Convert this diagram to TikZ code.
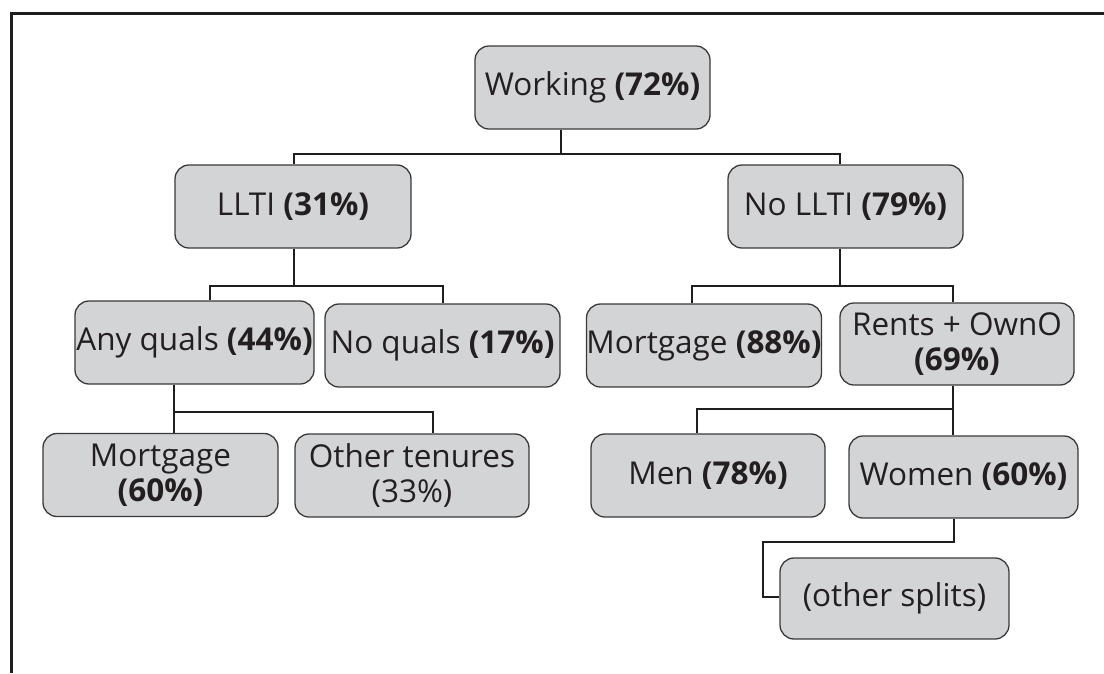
\documentclass[tikz,border=0pt]{standalone}
\usepackage{fontspec}
\setmainfont{Open Sans}
\definecolor{boxfill}{HTML}{D3D4D6}
\definecolor{boxdraw}{HTML}{3A3A3A}
\definecolor{txt}{HTML}{231F20}
\definecolor{linec}{HTML}{1E1E1E}
\begin{document}
\begin{tikzpicture}[x=1pt,y=-1pt,
  box/.style={draw=boxdraw, fill=boxfill, line width=1.3pt, rounded corners=14pt,
    minimum width=235pt, minimum height=83pt, inner sep=0pt, align=center,
    text=txt, font=\fontsize{31.5}{35}\selectfont},
  conn/.style={draw=linec, line width=1.8pt},
  connthin/.style={draw=linec, line width=1.4pt}]
\useasboundingbox (0,0) rectangle (1104,673);
% frame
\draw[linec, line width=3pt] (11.5,673) -- (11.5,13.5) -- (1104,13.5);

% nodes
\node[box] (work) at (592.5,87.5) {Working \textbf{(72\%)}};
\node[box, minimum width=236pt] (llti) at (293,206.5) {LLTI \textbf{(31\%)}};
\node[box] (nollti) at (845.5,206.5) {No LLTI \textbf{(79\%)}};
\node[box, minimum width=239pt] (anyq) at (194.5,342.5) {Any quals \textbf{(44\%)}};
\node[box] (noq) at (442.5,345.5) {No quals \textbf{(17\%)}};
\node[box, minimum width=234pt] (mort88) at (704,345.5) {Mortgage \textbf{(88\%)}};
\node[box, minimum width=234pt, minimum height=82pt] (rents) at (957,344) {Rents + OwnO\\\textbf{(69\%)}};
\node[box] (mort60) at (160.5,475) {Mortgage\\\textbf{(60\%)}};
\node[box, minimum width=234pt] (other) at (412,475.5) {Other tenures\\(33\%)};
\node[box, minimum width=234pt] (men) at (708,475.5) {Men \textbf{(78\%)}};
\node[box, minimum width=229pt, minimum height=82pt] (women) at (963.5,477) {Women \textbf{(60\%)}};
\node[box, minimum width=229pt, minimum height=81pt] (splits) at (894.5,598.5) {(other splits)};

% junction coordinates
\coordinate (w1) at (561,154);
\coordinate (wL) at (294,154);
\coordinate (wR) at (840,154);
\coordinate (l1) at (294,286);
\coordinate (lL) at (210,286);
\coordinate (lR) at (443,286);
\coordinate (n1) at (840,286);
\coordinate (nL) at (692,286);
\coordinate (nR) at (953,286);
\coordinate (a1) at (174,412);
\coordinate (aR) at (433,412);
\coordinate (r1) at (953,409);
\coordinate (rL) at (697,409);
\coordinate (o1) at (954,542);
\coordinate (o2) at (763,542);
\coordinate (o3) at (763,597);

% connectors
\draw[conn] (work.south -| w1) -- (w1);
\draw[conn] (llti.north -| wL) -- (wL) -- (wR) -- (nollti.north -| wR);

\draw[conn] (llti.south -| l1) -- (l1);
\draw[conn] (anyq.north -| lL) -- (lL) -- (lR) -- (noq.north -| lR);

\draw[conn] (nollti.south -| n1) -- (n1);
\draw[conn] (mort88.north -| nL) -- (nL) -- (nR) -- (rents.north -| nR);

\draw[connthin] (anyq.south -| a1) -- (mort60.north -| a1);
\draw[connthin] (a1) -- (aR) -- (other.north -| aR);

\draw[connthin] (rents.south -| r1) -- (women.north -| r1);
\draw[connthin] (r1) -- (rL) -- (men.north -| rL);

\draw[conn] (women.south -| o1) -- (o1) -- (o2) -- (o3) -- (splits.west |- o3);
\end{tikzpicture}
\end{document}
